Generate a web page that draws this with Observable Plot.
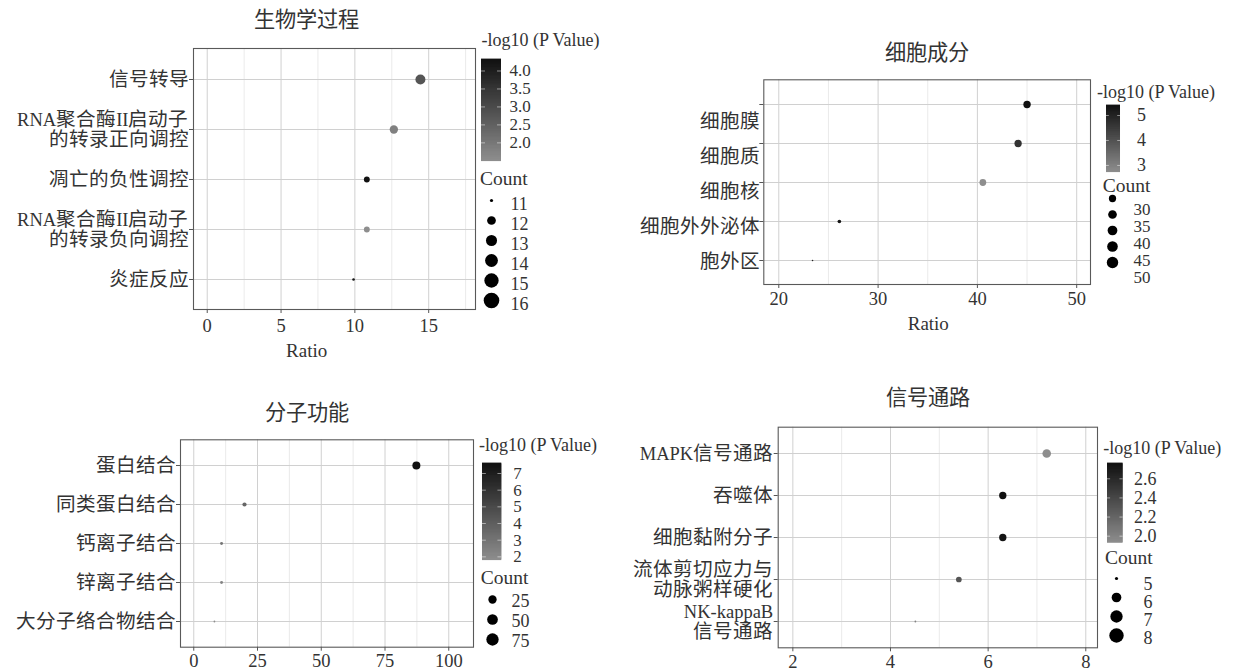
<!DOCTYPE html>
<html><head><meta charset="utf-8">
<script src="https://cdn.jsdelivr.net/npm/d3@7"></script>
<script src="https://cdn.jsdelivr.net/npm/@observablehq/plot@0.6"></script>
<style>
@font-face { font-family: "CJKAdj"; src: local("Noto Sans CJK SC"), local("Noto Sans CJK SC Regular"), local("NotoSansCJKsc-Regular"); size-adjust: 106%; unicode-range: U+2E80-9FFF, U+F900-FAFF, U+FF00-FFEF; }
body{margin:0;background:#fff;}
#root{position:relative;width:1233px;height:671px;overflow:hidden;background:#fff;font-family:"Liberation Serif","CJKAdj","Noto Sans CJK SC",serif;color:#333;}
.lbl{position:absolute;white-space:nowrap;line-height:1;}
</style></head><body><div id="root"></div><script>
// ---------- data ----------
const bpTerms = ["信号转导","RNA聚合酶II启动子\n的转录正向调控","凋亡的负性调控","RNA聚合酶II启动子\n的转录负向调控","炎症反应"];
const bpRatio = [14.44, 12.64, 10.81, 10.81, 9.91];
const bpCount = [16, 14, 12, 12, 11];
const bpLogP  = [2.78, 1.80, 4.32, 1.49, 4.20];
const bpXTicks = [0, 5, 10, 15];
const bpXMinor = [2.5, 7.5, 12.5, 17.5];
const bpXDomain = [-0.93, 18.17];
const bpColorTicks = [2.0, 2.5, 3.0, 3.5, 4.0];
const bpSizeBreaks = [11, 12, 13, 14, 15, 16];

const ccTerms = ["细胞膜","细胞质","细胞核","细胞外外泌体","胞外区"];
const ccRatio = [45.0, 44.1, 40.55, 26.1, 23.4];
const ccCount = [50, 49, 45, 29, 26];
const ccLogP  = [5.40, 4.68, 2.73, 5.30, 5.00];
const ccXTicks = [20, 30, 40, 50];
const ccXMinor = [25, 35, 45];
const ccXDomain = [18.49, 51.39];
const ccColorTicks = [3, 4, 5];
const ccSizeBreaks = [30, 35, 40, 45, 50];

const mfTerms = ["蛋白结合","同类蛋白结合","钙离子结合","锌离子结合","大分子络合物结合"];
const mfRatio = [87.3, 19.9, 10.9, 10.9, 8.1];
const mfCount = [97, 22, 12, 12, 9];
const mfLogP  = [7.60, 3.66, 2.90, 2.20, 1.80];
const mfXTicks = [0, 25, 50, 75, 100];
const mfXMinor = [12.5, 37.5, 62.5, 87.5];
const mfXDomain = [-5.2, 109.7];
const mfColorTicks = [2, 3, 4, 5, 6, 7];
const mfSizeBreaks = [25, 50, 75];

const kgTerms = ["MAPK信号通路","吞噬体","细胞黏附分子","流体剪切应力与\n动脉粥样硬化","NK-kappaB\n信号通路"];
const kgRatio = [7.2, 6.3, 6.3, 5.4, 4.51];
const kgCount = [8, 7, 7, 6, 5];
const kgLogP  = [1.93, 2.76, 2.74, 2.31, 2.00];
const kgXTicks = [2, 4, 6, 8];
const kgXMinor = [3, 5, 7];
const kgXDomain = [1.70, 8.24];
const kgColorTicks = [2.0, 2.2, 2.4, 2.6];
const kgSizeBreaks = [5, 6, 7, 8];

// ---------- styling / layout ----------
const FONT = '"Liberation Serif","CJKAdj","Noto Sans CJK SC",serif';
const LOW = "#8e8e8e", HIGH = "#111111";
const TICKFS = 18.5;

const panels = [
  {terms: bpTerms, ratio: bpRatio, count: bpCount, logp: bpLogP, xTicks: bpXTicks, xMinor: bpXMinor, xDomain: bpXDomain,
   colorTicks: bpColorTicks, sizeBreaks: bpSizeBreaks, title: "生物学过程", fmt: ".1f",
   L: {title:[306.7,20], box:[0,0,480,370], frame:[193,48,475,309], tickPad:5.2, xLabel:[306.7,350], rRange:[1.3,5],
       legTitle:[481.5,40], bar:[481,501,59.3,161], barLabelX:509, barFS:17, countTitle:[480,179.3],
       size:{dotX:490.7, dy0:199.3, dy1:301.7, labelX:510, ly0:202.7, ly1:304.3, fs:18}, legendR:[1.6,7.8]}},
  {terms: ccTerms, ratio: ccRatio, count: ccCount, logp: ccLogP, xTicks: ccXTicks, xMinor: ccXMinor, xDomain: ccXDomain,
   colorTicks: ccColorTicks, sizeBreaks: ccSizeBreaks, title: "细胞成分", fmt: "d",
   L: {title:[926.7,52.7], box:[620,30,475,320], frame:[763.3,79.3,1090,284], tickPad:3.5, xLabel:[928.3,323.3], rRange:[0.8,3.7],
       legTitle:[1097,91.7], bar:[1106,1120,105,171.7], barLabelX:1136.5, barFS:18, countTitle:[1102.7,186.3],
       size:{dotX:1111.7, dy0:198, dy1:262, labelX:1133.3, ly0:206.7, ly1:278, fs:17}, legendR:[2.2,5.7],
       yLabelRight:759, yLabelRange:[120,263.3]}},
  {terms: mfTerms, ratio: mfRatio, count: mfCount, logp: mfLogP, xTicks: mfXTicks, xMinor: mfXMinor, xDomain: mfXDomain,
   colorTicks: mfColorTicks, sizeBreaks: mfSizeBreaks, title: "分子功能", fmt: "d",
   L: {title:[306.7,412.7], box:[0,390,478,281], frame:[180,439.3,473,646.7], tickPad:3, xLabel:null, rRange:[0.9,4],
       legTitle:[479,445], bar:[481.7,501,463.3,560], barLabelX:512.5, barFS:17, countTitle:[480.7,577.7],
       size:{dotX:492.3, dy0:599, dy1:639.3, labelX:511, ly0:601, ly1:641.7, fs:18}, legendR:[2.2,6.8]}},
  {terms: kgTerms, ratio: kgRatio, count: kgCount, logp: kgLogP, xTicks: kgXTicks, xMinor: kgXMinor, xDomain: kgXDomain,
   colorTicks: kgColorTicks, sizeBreaks: kgSizeBreaks, title: "信号通路", fmt: ".1f",
   L: {title:[928.3,398.3], box:[620,390,482,281], frame:[777.7,426.7,1097,647.3], tickPad:2.8, xLabel:null, rRange:[0.9,4.3],
       legTitle:[1103.3,448.3], bar:[1106.7,1122.3,463.3,542.7], barLabelX:1133.3, barFS:18, countTitle:[1105,558.3],
       size:{dotX:1115.7, dy0:577, dy1:636.5, labelX:1143, ly0:582.7, ly1:638.3, fs:18}, legendR:[1.6,7.2]}}
];

const root = document.getElementById("root");
function place(el, left, top) {
  el.style.position = "absolute"; el.style.left = left + "px"; el.style.top = top + "px";
  root.appendChild(el);
}
function label(text, x, y, size, anchor) {
  const d = document.createElement("div");
  d.className = "lbl"; d.textContent = text; d.style.fontSize = size + "px";
  d.style.left = x + "px"; d.style.top = y + "px";
  d.style.transform = anchor === "middle" ? "translate(-50%,-50%)" : "translate(0,-50%)";
  root.appendChild(d);
}
const baseStyle = {fontFamily: FONT, color: "#333", background: "none", overflow: "visible"};
const numFmt = d3.format("~g");

function drawPanel(p) {
  const L = p.L;
  const [bx, by, bw, bh] = L.box;
  const [fl, ft, fr, fb] = L.frame;
  const data = p.terms.map((t, i) => ({term: t, ratio: p.ratio[i], count: p.count[i], logp: p.logp[i]}));
  const cmin = d3.min(p.count), cmax = d3.max(p.count);
  const color = {type: "linear", domain: d3.extent(p.logp), range: [LOW, HIGH], interpolate: "rgb"};
  const overlay = !!L.yLabelRange;

  const yAxisOpts = {tickSize: 4, tickPadding: 1, fontSize: TICKFS, label: null, lineHeight: 1.12, stroke: "#555", fill: "#333"};
  if (overlay) yAxisOpts.tickFormat = () => "";

  const main = Plot.plot({
    width: bw, height: bh,
    marginLeft: fl - bx, marginTop: ft - by, marginRight: bx + bw - fr, marginBottom: by + bh - fb,
    style: baseStyle,
    x: {domain: p.xDomain},
    y: {type: "point", domain: p.terms, padding: 0.6},
    r: {type: "sqrt", domain: [0, cmax - cmin], range: L.rRange},
    color,
    marks: [
      Plot.gridX({ticks: p.xMinor, stroke: "#e4e4e4", strokeOpacity: 1, strokeWidth: 0.8}),
      Plot.gridX({ticks: p.xTicks, stroke: "#d0d0d0", strokeOpacity: 1}),
      Plot.gridY({stroke: "#d0d0d0", strokeOpacity: 1}),
      Plot.frame({stroke: "#595959", strokeWidth: 1.1}),
      Plot.dot(data, {x: "ratio", y: "term", r: d => d.count - cmin, fill: "logp"}),
      Plot.axisX({ticks: p.xTicks, tickFormat: numFmt, tickSize: 4, tickPadding: L.tickPad, fontSize: TICKFS, label: null, stroke: "#555", fill: "#333"}),
      Plot.axisY(yAxisOpts)
    ]
  });
  place(main, bx, by);

  if (overlay) {
    const ov = Plot.plot({
      width: L.yLabelRight - bx, height: bh, margin: 0, style: baseStyle,
      x: {axis: null},
      y: {type: "point", axis: null, padding: 0, domain: p.terms, range: [L.yLabelRange[0] - by, L.yLabelRange[1] - by]},
      marks: [Plot.text(p.terms, {y: d => d, text: d => d, frameAnchor: "right", textAnchor: "end", fontSize: TICKFS, fill: "#333"})]
    });
    place(ov, bx, by);
  }

  // titles
  label(p.title, L.title[0], L.title[1], 20, "middle");
  if (L.xLabel) label("Ratio", L.xLabel[0], L.xLabel[1], 19, "middle");
  label("-log10 (P Value)", L.legTitle[0], L.legTitle[1], 18, "start");
  label("Count", L.countTitle[0], L.countTitle[1], 19.5, "start");

  // colorbar
  const [b0, b1, bt, bb] = L.bar;
  const [lo, hi] = color.domain;
  const n = 100;
  const slices = d3.range(n).map(i => ({a: lo + (hi - lo) * i / n, b: lo + (hi - lo) * (i + 1) / n}));
  const cbTop = bt - 12;
  const cb = Plot.plot({
    width: L.barLabelX - b0 + 40, height: bb - bt + 24, margin: 0, style: baseStyle,
    x: {domain: [0, 1], range: [0, b1 - b0], axis: null},
    y: {domain: [lo, hi], range: [bb - cbTop, bt - cbTop], axis: null},
    color,
    marks: [
      Plot.rect(slices, {x1: 0, x2: 1, y1: "a", y2: "b", fill: d => (d.a + d.b) / 2, insetTop: -0.4, insetBottom: -0.4}),
      Plot.ruleY(p.colorTicks, {x1: 0, x2: 0.2, stroke: "#fff", strokeOpacity: 0.5}),
      Plot.ruleY(p.colorTicks, {x1: 0.8, x2: 1, stroke: "#fff", strokeOpacity: 0.5}),
      Plot.text(p.colorTicks, {x: 1, y: d => d, dx: L.barLabelX - b1, text: d3.format(p.fmt), textAnchor: "start", fontSize: L.barFS, fill: "#333"})
    ]
  });
  place(cb, b0, cbTop);

  // size legend: dots
  const S = L.size;
  const sl = S.dotX - 14, st = S.dy0 - 14;
  const szDots = Plot.plot({
    width: 28, height: S.dy1 - S.dy0 + 28, margin: 0, style: baseStyle,
    x: {axis: null},
    y: {type: "point", axis: null, padding: 0, domain: p.sizeBreaks, range: [S.dy0 - st, S.dy1 - st]},
    r: {type: "sqrt", domain: [0, cmax - cmin], range: L.legendR},
    marks: [
      Plot.dot(p.sizeBreaks, {y: d => d, r: d => d - cmin, fill: "#000", frameAnchor: "middle"})
    ]
  });
  place(szDots, sl, st);
  // size legend: labels
  const lt = S.ly0 - 14;
  const szLab = Plot.plot({
    width: 40, height: S.ly1 - S.ly0 + 28, margin: 0, style: baseStyle,
    x: {axis: null},
    y: {type: "point", axis: null, padding: 0, domain: p.sizeBreaks, range: [S.ly0 - lt, S.ly1 - lt]},
    marks: [
      Plot.text(p.sizeBreaks, {y: d => d, text: d => String(d), frameAnchor: "left", textAnchor: "start", fontSize: S.fs, fill: "#333"})
    ]
  });
  place(szLab, S.labelX, lt);
}

panels.forEach(drawPanel);
</script></body></html>
